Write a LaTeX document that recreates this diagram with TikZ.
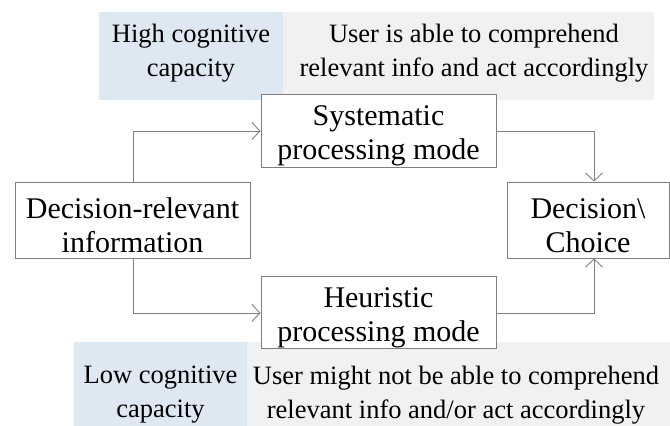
\documentclass[tikz,border=0pt]{standalone}
\usepackage{fontspec}
\setmainfont{Liberation Serif}
\usetikzlibrary{arrows.meta}
\definecolor{bandblue}{HTML}{DEE8F2}
\definecolor{bandgray}{HTML}{F1F1F1}
\definecolor{linegray}{HTML}{7F7F7F}
\newcommand{\boxstrut}{\rule{0pt}{31pt}}
\tikzset{
  procbox/.style={draw=linegray, line width=0.9pt, fill=white, align=center, inner sep=0pt,
    font=\fontsize{30}{34}\selectfont},
  bandtext/.style={align=center, inner sep=0pt, font=\fontsize{26.5}{34}\selectfont},
  conn/.style={draw=linegray, line width=0.9pt, -{Straight Barb[length=8pt,width=17pt,line width=0.9pt]}},
}
\begin{document}
\begin{tikzpicture}[x=1pt,y=-1pt]
\useasboundingbox (0,0) rectangle (670,426);
% bands
\fill[bandblue] (99,12) rectangle (283,100);
\fill[bandgray] (283,12) rectangle (654,100);
\fill[bandblue] (74,342) rectangle (247,426);
\fill[bandgray] (247,342) rectangle (670,426);
\node[bandtext] (hc) at (191,53) {High cognitive\\capacity};
\node[bandtext] (hct) at (474,53) {User is able to comprehend\\relevant info and act accordingly};
\node[bandtext] (lc) at (160.5,395) {Low cognitive\\capacity};
\node[bandtext] (lct) at (456,395) {User might not be able to comprehend\\relevant info and/or act accordingly};
% boxes
\node[procbox, minimum width=235pt, minimum height=73pt] (sys) at (378.5,130.5) {\boxstrut Systematic\\processing mode};
\node[procbox, minimum width=235pt, minimum height=71pt] (heu) at (378.5,312.5) {\boxstrut Heuristic\\processing mode};
\node[procbox, minimum width=235pt, minimum height=76pt] (dri) at (132.5,220) {\boxstrut Decision-relevant\\information};
\node[procbox, minimum width=162pt, minimum height=76pt] (dec) at (588,220) {\boxstrut Decision\textbackslash\\Choice};
% connectors
\coordinate (a1) at (133,131);
\coordinate (a2) at (133,313);
\coordinate (b1) at (594,131);
\coordinate (b2) at (594,313);
\draw[conn] (dri.north -| a1) -- (a1) -- (sys.west |- a1);
\draw[conn] (dri.south -| a2) -- (a2) -- (heu.west |- a2);
\draw[conn] (sys.east |- b1) -- (b1) -- (dec.north -| b1);
\draw[conn] (heu.east |- b2) -- (b2) -- (dec.south -| b2);
\end{tikzpicture}
\end{document}
